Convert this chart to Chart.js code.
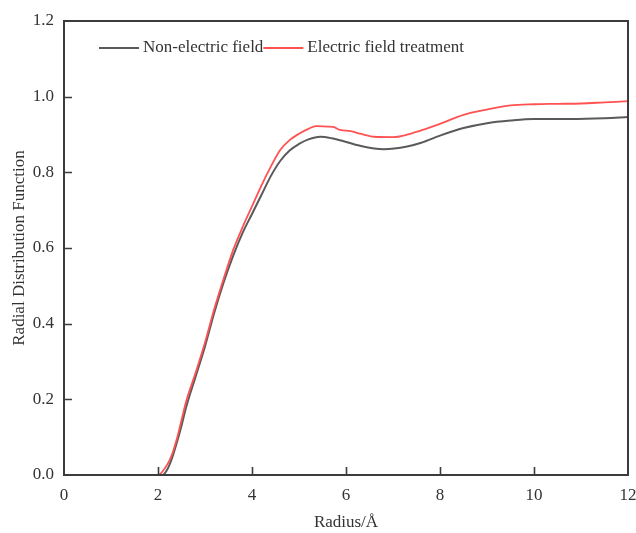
<!DOCTYPE html>
<html>
<head>
<meta charset="utf-8">
<script src="https://cdn.jsdelivr.net/npm/chart.js@4/dist/chart.umd.min.js"></script>
<style>
  html, body { margin: 0; padding: 0; background: #fff; }
  #wrap { width: 636px; height: 533px; }
</style>
</head>
<body>
<div id="wrap"><canvas id="rdf" width="636" height="533"></canvas></div>
<script>
// ─── Data ───
const xTicks = [0, 2, 4, 6, 8, 10, 12];
const yTicks = [0.0, 0.2, 0.4, 0.6, 0.8, 1.0, 1.2];

const seriesNames = ['Non-electric field', 'Electric field treatment'];

const noFieldR = [2.0, 2.1, 2.2, 2.3, 2.4, 2.5, 2.6, 2.8, 3.0, 3.2, 3.4, 3.6, 3.8, 4.0, 4.2, 4.4, 4.6, 4.8, 5.0, 5.2, 5.45, 5.7, 5.9, 6.3, 6.8, 7.3, 7.6, 8.0, 8.5, 9.0, 9.5, 10.0, 10.8, 11.5, 12.0];
const noFieldG = [0.0, 0.0, 0.015, 0.045, 0.085, 0.13, 0.18, 0.26, 0.34, 0.43, 0.51, 0.58, 0.64, 0.69, 0.74, 0.79, 0.83, 0.858, 0.875, 0.887, 0.894, 0.89, 0.884, 0.870, 0.861, 0.868, 0.878, 0.897, 0.917, 0.930, 0.937, 0.941, 0.941, 0.943, 0.946];

const fieldR = [2.0, 2.05, 2.1, 2.2, 2.3, 2.4, 2.5, 2.6, 2.8, 3.0, 3.2, 3.4, 3.6, 3.8, 4.0, 4.2, 4.4, 4.6, 4.8, 5.0, 5.2, 5.36, 5.6, 5.73, 5.87, 6.1, 6.3, 6.6, 7.0, 7.4, 7.7, 8.0, 8.5, 9.0, 9.5, 10.0, 10.5, 11.0, 11.5, 12.0];
const fieldG = [0.0, 0.003, 0.01, 0.028, 0.055, 0.095, 0.145, 0.195, 0.27, 0.35, 0.44, 0.52, 0.595, 0.655, 0.71, 0.765, 0.815, 0.859, 0.885, 0.902, 0.915, 0.922, 0.921, 0.920, 0.912, 0.909, 0.902, 0.894, 0.893, 0.903, 0.915, 0.928, 0.952, 0.966, 0.977, 0.980, 0.981, 0.982, 0.985, 0.988];

const GRAY = '#5a5a5a';
const RED = '#ff5252';
const INK = '#333333';
const FONT = "'Liberation Serif', 'Times New Roman', serif";

const toPts = (xs, ys) => xs.map((x, i) => ({ x, y: ys[i] }));

// ─── Frame + inward ticks ───
const framePlugin = {
    id: 'frame',
    afterDatasetsDraw(chart) {
        const { ctx, chartArea: a, scales: { x, y } } = chart;
        ctx.save();
        ctx.strokeStyle = '#3c3c3c';
        ctx.lineWidth = 2;
        ctx.strokeRect(a.left, a.top, a.right - a.left, a.bottom - a.top);
        ctx.lineWidth = 1.6;
        ctx.beginPath();
        xTicks.slice(1, -1).forEach(v => {
            const px = Math.round(x.getPixelForValue(v)) + 0.5;
            ctx.moveTo(px, a.bottom);
            ctx.lineTo(px, a.bottom - 8);
        });
        yTicks.slice(1, -1).forEach(v => {
            const py = Math.round(y.getPixelForValue(v)) + 0.5;
            ctx.moveTo(a.left, py);
            ctx.lineTo(a.left + 8, py);
        });
        ctx.stroke();
        ctx.restore();
    }
};

// ─── Legend inside plot ───
const legendPlugin = {
    id: 'innerLegend',
    afterDraw(chart) {
        const { ctx, chartArea: a } = chart;
        const colors = [GRAY, RED];
        const yMid = a.top + 27;
        let xPos = a.left + 35;
        ctx.save();
        ctx.font = `17px ${FONT}`;
        ctx.textBaseline = 'middle';
        ctx.fillStyle = INK;
        seriesNames.forEach((name, i) => {
            ctx.strokeStyle = colors[i];
            ctx.lineWidth = 2;
            ctx.beginPath();
            ctx.moveTo(xPos, yMid);
            ctx.lineTo(xPos + 40, yMid);
            ctx.stroke();
            xPos += 44;
            ctx.fillText(name, xPos, yMid);
            xPos += ctx.measureText(name).width;
        });
        ctx.restore();
    }
};

new Chart(document.getElementById('rdf'), {
    type: 'line',
    data: {
        datasets: [
            {
                label: seriesNames[1],
                data: toPts(fieldR, fieldG),
                borderColor: RED,
                borderWidth: 1.8,
                pointRadius: 0,
                cubicInterpolationMode: 'monotone',
                order: 0
            },
            {
                label: seriesNames[0],
                data: toPts(noFieldR, noFieldG),
                borderColor: GRAY,
                borderWidth: 2,
                pointRadius: 0,
                cubicInterpolationMode: 'monotone',
                order: 1
            }
        ]
    },
    options: {
        responsive: false,
        animation: false,
        layout: { padding: { top: 21, right: 0, left: 0, bottom: 0 } },
        plugins: { legend: { display: false }, tooltip: { enabled: false } },
        scales: {
            x: {
                type: 'linear',
                min: 0, max: 12,
                afterBuildTicks: s => { s.ticks = xTicks.map(v => ({ value: v })); },
                afterFit: s => { s.height = 58; s.paddingRight = 8; s.paddingLeft = 0; },
                grid: { display: false, drawTicks: false },
                border: { display: false },
                ticks: { color: INK, font: { family: FONT, size: 17 }, padding: 10, maxRotation: 0 },
                title: { display: true, text: 'Radius/Å', color: INK, font: { family: FONT, size: 17 }, padding: { top: 0, bottom: 0 } }
            },
            y: {
                min: 0, max: 1.2,
                afterBuildTicks: s => { s.ticks = yTicks.map(v => ({ value: v })); },
                afterFit: s => { s.width = 64; s.paddingTop = 0; s.paddingBottom = 0; },
                grid: { display: false, drawTicks: false },
                border: { display: false },
                ticks: { color: INK, font: { family: FONT, size: 17 }, padding: 10, callback: v => v.toFixed(1) },
                title: { display: true, text: 'Radial Distribution Function', color: INK, font: { family: FONT, size: 17 }, padding: { top: 9, bottom: 0 } }
            }
        }
    },
    plugins: [framePlugin, legendPlugin]
});
</script>
</body>
</html>
